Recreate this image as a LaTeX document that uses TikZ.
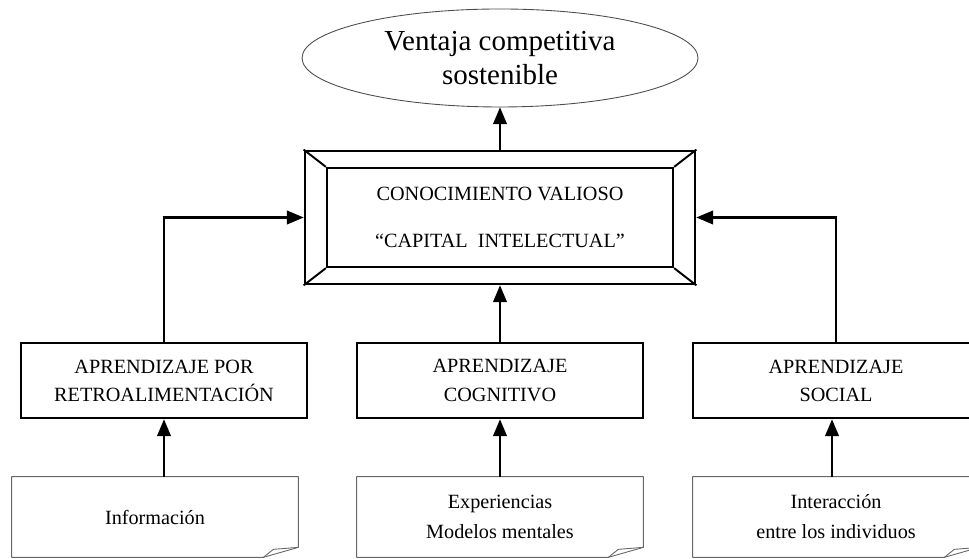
\documentclass[tikz,border=0pt]{standalone}
\usepackage{fontspec}
\setmainfont{Liberation Serif}
\usepackage{tikz}
\usetikzlibrary{shapes}
\usetikzlibrary{arrows}
\tikzstyle{goal} = [ellipse,draw=black!70,line width=0.5pt,minimum width=7.92cm,
minimum height=1.96cm,align=center,font=\fontsize{16.5}{19.5}\selectfont]
\tikzstyle{frame} = [rectangle,draw=black,line width=1.6pt,minimum width=7.8cm,
minimum height=2.66cm]
\tikzstyle{inframe} = [rectangle,draw=black,line width=1.3pt,minimum width=6.92cm,
minimum height=1.98cm,align=center,font=\fontsize{11.5}{26.5}\selectfont]
\tikzstyle{learn} = [rectangle,draw=black,line width=1.6pt,minimum width=5.72cm,
minimum height=1.5cm,align=center,font=\fontsize{11.5}{16}\selectfont]
\tikzstyle{source} = [rectangle,minimum width=5.72cm,minimum height=1.6cm,
align=center,font=\fontsize{11.5}{17}\selectfont]
\tikzstyle{sheet} = [draw=black!60,line width=0.5pt,line join=round]
\tikzstyle{link} = [->,>={triangle 45},line width=1.2pt]
\newcommand{\dogear}[1]{ %
  % Outline of a sheet #1 with its lower right corner turned up.
  \draw[sheet] (#1.north west) -- (#1.north east) --
    ([yshift=0.2cm]#1.south east) -- ([xshift=-0.7cm]#1.south east) --
    (#1.south west) -- cycle ;
  \draw[sheet] ([xshift=-0.7cm]#1.south east) --
    ([xshift=-0.5cm,yshift=0.16cm]#1.south east) --
    ([yshift=0.2cm]#1.south east) ;
}

\begin{document}
\begin{tikzpicture}
  \useasboundingbox (0,0) rectangle (19.38,11.18);
  \node[goal](vc) at (10,10.02) {Ventaja competitiva\\sostenible};
  \node[frame](cv) at (10,6.83) {};
  \node[inframe](cvi) at (10,6.83) {CONOCIMIENTO VALIOSO\\``CAPITAL\ \ INTELECTUAL''};
  \foreach \c in {north east,north west,south east,south west}
    \draw[line width=1.1pt] (cv.\c) -- (cvi.\c);
  \node[learn](ar) at (3.28,3.57) {APRENDIZAJE POR\\RETROALIMENTACIÓN};
  \node[learn](ac) at (10,3.57) {APRENDIZAJE\\COGNITIVO};
  \node[learn](as) at (16.72,3.57) {APRENDIZAJE\\SOCIAL};
  \node[source](inf) at (3.1,0.84) {Información};
  \node[source](exp) at (10,0.84) {Experiencias\\Modelos mentales};
  \node[source](int) at (16.72,0.84) {Interacción\\entre los individuos};
  \dogear{inf}
  \dogear{exp}
  \dogear{int}
  \draw[link] (cv) -- (vc);
  \draw[link] (ar.north) |- (cv.west);
  \draw[link] (as.north) |- (cv.east);
  \draw[link] (ac) -- (cv);
  \draw[link] (ar.south |- inf.north) -- (ar.south);
  \draw[link] (exp) -- (ac);
  \draw[link] ([xshift=-0.08cm]as.south |- int.north) -- ([xshift=-0.08cm]as.south);
\end{tikzpicture}
\end{document}
